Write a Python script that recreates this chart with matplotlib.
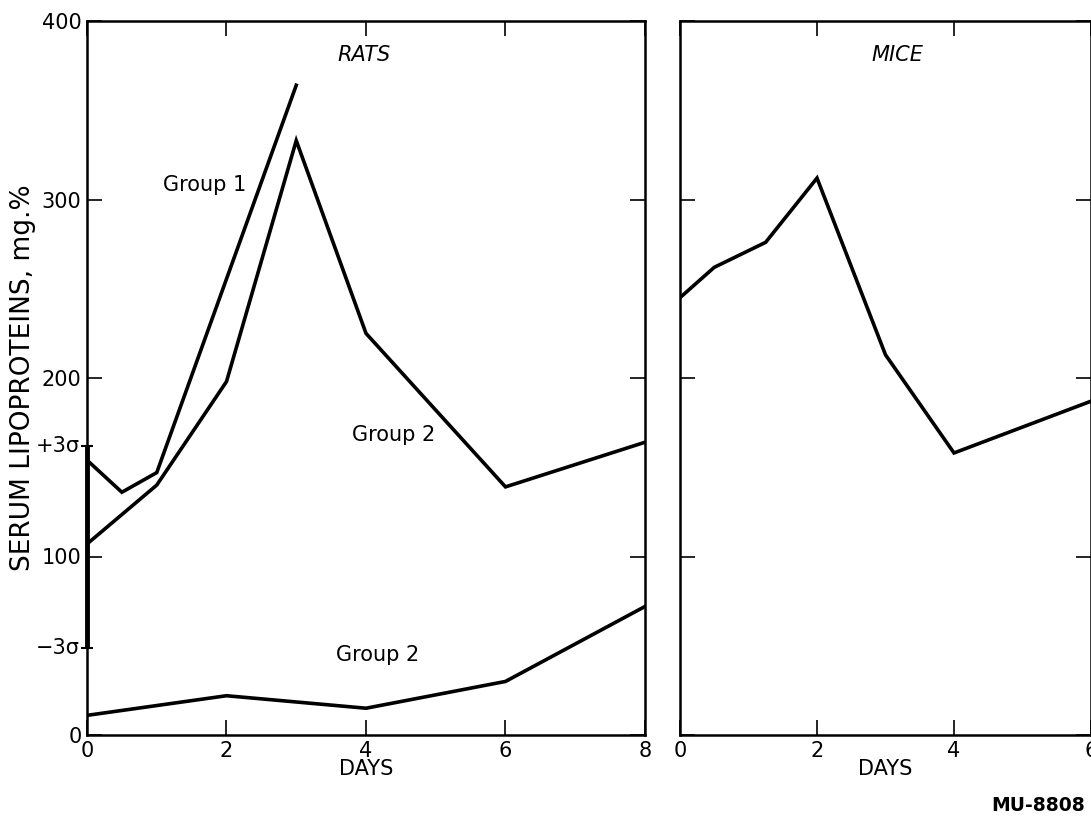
import matplotlib
matplotlib.use('Agg')
import matplotlib.pyplot as plt

# rats, group 1 (upper line, stops at day 3)
rats_g1_days = [0, 0.5, 1, 3]
rats_g1_vals = [154, 136, 147, 364]

# rats, group 2 (upper line)
rats_g2_days = [0, 1, 2, 3, 4, 6, 8]
rats_g2_vals = [107, 140, 198, 333, 225, 139, 164]

# rats, group 2 (lower line)
rats_low_days = [0, 2, 4, 6, 8]
rats_low_vals = [11, 22, 15, 30, 72]

# mice
mice_days = [0, 0.5, 1.25, 2, 3, 4, 6]
mice_vals = [245, 262, 276, 312, 213, 158, 187]

# normal range bar on the rats axis
sigma_lo = 49
sigma_hi = 162

y_ticks = [0, 100, 200, 300, 400]
rats_x_ticks = [0, 2, 4, 6, 8]
mice_x_ticks = [0, 2, 4, 6]

plt.rcParams['font.family'] = ['DejaVu Sans']

W, H = 1091, 821
fig = plt.figure(figsize=(W / 100, H / 100), dpi=100, facecolor='white')

def box(x0, y0, x1, y1):
    # pixel box (top-left origin) -> figure fraction
    return [x0 / W, 1 - y1 / H, (x1 - x0) / W, (y1 - y0) / H]

ax1 = fig.add_axes(box(87, 21, 645, 735))
ax2 = fig.add_axes(box(680, 21, 1091, 735))

lw_line = 2.6
for ax in (ax1, ax2):
    ax.set_ylim(0, 400)
    ax.set_yticks(y_ticks)
    for s in ax.spines.values():
        s.set_linewidth(1.8)
        s.set_color('black')
    ax.tick_params(direction='in', length=11, width=1.2, top=True, right=True,
                   labelsize=15, pad=4, colors='black')

# rats panel
ax1.set_xlim(0, 8)
ax1.set_xticks(rats_x_ticks)
ax1.plot(rats_g1_days, rats_g1_vals, color='black', lw=lw_line, solid_joinstyle='miter')
ax1.plot(rats_g2_days, rats_g2_vals, color='black', lw=lw_line, solid_joinstyle='miter')
ax1.plot(rats_low_days, rats_low_vals, color='black', lw=lw_line, solid_joinstyle='miter')

ax1.plot([0, 0], [sigma_lo, sigma_hi], color='black', lw=3.5, clip_on=False,
         solid_capstyle='butt')
ax1.plot([0, 0], [sigma_lo, sigma_hi], color='black', lw=0, marker='_',
         markersize=9, markeredgewidth=1.5, clip_on=False)
ax1.annotate('+3σ', xy=(0, sigma_hi), xytext=(-5, 0), textcoords='offset points',
             ha='right', va='center', fontsize=15)
ax1.annotate('−3σ', xy=(0, sigma_lo), xytext=(-5, 0), textcoords='offset points',
             ha='right', va='center', fontsize=15)

ax1.text(1.69, 308, 'Group 1', fontsize=15, ha='center', va='center')
ax1.text(4.39, 168, 'Group 2', fontsize=15, ha='center', va='center')
ax1.text(4.16, 45, 'Group 2', fontsize=15, ha='center', va='center')
ax1.text(0.497, 0.953, 'RATS', transform=ax1.transAxes, fontsize=15,
         style='italic', ha='center', va='center')

ax1.set_xlabel('DAYS', fontsize=15, labelpad=-1)
ax1.set_ylabel('SERUM LIPOPROTEINS, mg.%', fontsize=19, labelpad=4)

# mice panel
ax2.set_xlim(0, 6)
ax2.set_xticks(mice_x_ticks)
ax2.set_yticklabels([])
ax2.plot(mice_days, mice_vals, color='black', lw=lw_line, solid_joinstyle='miter')
ax2.text(0.53, 0.953, 'MICE', transform=ax2.transAxes, fontsize=15,
         style='italic', ha='center', va='center')
ax2.set_xlabel('DAYS', fontsize=15, labelpad=-1)

fig.text(1038 / W, 1 - 805 / H, 'MU-8808', fontsize=13.5, fontweight='bold',
         ha='center', va='center')

fig.savefig('out.png', dpi=100, facecolor='white')
